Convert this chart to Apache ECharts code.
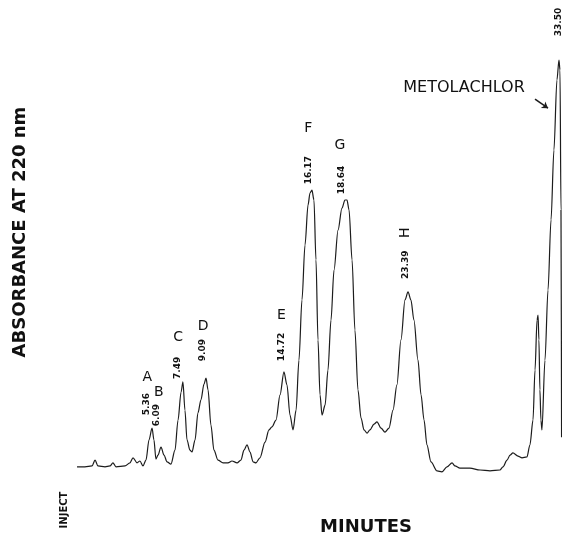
<!DOCTYPE html>
<html><head><meta charset="utf-8">
<script src="https://cdn.jsdelivr.net/npm/echarts@6/dist/echarts.min.js"></script>
<style>html,body{margin:0;padding:0;background:#fff}#c{width:562px;height:541px}</style>
</head><body><div id="c"></div>
<script>
// Chromatogram trace: retention time (min) and absorbance (arbitrary units, 0-100)
const traceTime = [0.14,0.69,1.18,1.39,1.59,2.08,2.43,2.63,2.84,3.47,3.81,4.02,4.30,4.50,4.71,4.92,5.13,5.34,5.47,5.61,5.75,5.96,6.17,6.38,6.65,6.93,7.14,7.35,7.48,7.62,7.76,7.97,8.11,8.32,8.52,8.73,8.94,9.08,9.22,9.42,9.63,9.91,10.26,10.60,10.88,11.23,11.50,11.71,11.92,12.13,12.34,12.54,12.82,13.17,13.44,13.65,13.93,14.21,14.48,14.69,14.90,15.11,15.32,15.52,15.73,15.94,16.15,16.29,16.42,16.56,16.70,16.84,16.98,17.12,17.33,17.53,17.74,17.95,18.23,18.50,18.71,18.85,18.99,19.20,19.40,19.61,19.82,20.03,20.24,20.44,20.72,20.93,21.21,21.48,21.76,22.04,22.31,22.59,22.87,23.08,23.28,23.49,23.77,23.98,24.19,24.39,24.67,25.09,25.43,25.78,26.13,26.33,26.68,27.37,28.07,28.76,29.45,29.66,29.94,30.15,30.35,30.70,30.98,31.32,31.53,31.74,31.88,32.02,32.09,32.15,32.22,32.29,32.36,32.57,32.78,32.99,33.19,33.40,33.54,33.61,33.68,33.72];
const traceAbs = [0.7,0.7,0.9,2.2,0.9,0.7,0.9,1.6,0.7,0.9,1.6,2.7,1.6,2.0,0.9,2.2,6.7,9.3,6.7,2.4,3.3,5.1,3.3,1.8,1.3,4.4,11.1,17.3,19.6,13.3,6.7,4.4,4.0,6.7,12.7,15.6,19.1,20.4,17.8,10.0,4.4,2.2,1.6,1.6,2.0,1.6,2.2,4.4,5.6,4.0,1.8,1.6,2.7,6.2,8.9,9.6,11.1,16.7,21.8,18.9,12.2,8.9,13.3,24.4,37.8,50.0,58.9,61.6,62.2,60.0,46.7,28.9,16.7,12.2,14.4,22.2,33.3,44.4,53.3,58.2,60.0,60.0,57.8,46.7,31.1,17.8,11.6,8.9,8.2,8.9,10.2,10.7,9.3,8.4,9.3,13.3,18.9,28.9,37.8,39.6,37.8,33.3,24.4,16.7,11.1,5.6,1.8,-0.2,-0.4,0.7,1.6,0.9,0.4,0.4,0,-0.2,0,0.7,2.2,3.3,3.8,3.1,2.7,2.9,5.6,11.1,22.2,33.3,34.4,28.9,17.8,11.1,8.9,24.4,40.0,55.6,71.1,86.7,91.1,88.9,57.8,7.3];

// Peak annotations
const peakLetters = ['A','B','C','D','E','F','G','H',''];
const peakTimes = [5.36, 6.09, 7.49, 9.09, 14.72, 16.17, 18.64, 23.39, 33.50];
const peakHeights = [9.3, 5.1, 19.6, 20.4, 21.8, 62.2, 60.0, 39.6, 91.1];
const compoundName = 'METOLACHLOR';
const yTitle = 'ABSORBANCE AT 220 nm';
const xTitle = 'MINUTES';
const injectLabel = 'INJECT';

// label placement offsets (pixels) relative to each peak anchor
const numOffsets = [[-6,-24],[-6,-32],[-5,-14],[-4,-28],[-6,-25],[0,-20],[-2,-20],[-7,-27],[0,-38]];
const letterOffsets = [[-5,-51],[-4,-55],[-5,-44],[-3,-52],[-6,-57],[0,-62],[-4,-55],[-7,-59],[0,0]];

const chart = echarts.init(document.getElementById('c'), null, {renderer:'canvas'});
const seriesData = traceTime.map((t,i)=>[t, traceAbs[i]]);
chart.setOption({
  animation:false,
  backgroundColor:'#ffffff',
  grid:{left:75, width:487, top:20, height:472.5},
  xAxis:{type:'value', min:0, max:33.75, show:false},
  yAxis:{type:'value', min:-5, max:100, show:false},
  series:[{
    type:'line', data:seriesData, showSymbol:false, smooth:0.3, smoothMonotone:'x',
    lineStyle:{color:'#1c1c1c', width:1.2}, clip:false,
    markLine:{silent:true, symbol:['none','arrow'], symbolSize:6,
      lineStyle:{color:'#1c1c1c', width:1.5, type:'solid'}, label:{show:false},
      data:[[{coord:[31.88,82.4]},{coord:[32.78,80.4]}]]}
  }]
});

const g = [];
const baseFont = '"DejaVu Sans", sans-serif';
peakTimes.forEach((t,i)=>{
  const p = chart.convertToPixel({gridIndex:0},[t, peakHeights[i]]);
  g.push({type:'text', x:p[0]+numOffsets[i][0], y:p[1]+numOffsets[i][1], rotation:Math.PI/2,
    style:{text:t.toFixed(2), font:'bold 9px '+baseFont, fill:'#111', textAlign:'center', textVerticalAlign:'middle'}});
  if (peakLetters[i]) {
    g.push({type:'text', x:p[0]+letterOffsets[i][0], y:p[1]+letterOffsets[i][1],
      rotation: peakLetters[i]==='H' ? Math.PI/2 : 0,
      style:{text:peakLetters[i], font:'14px '+baseFont, fill:'#111', textAlign:'center', textVerticalAlign:'middle'}});
  }
});
const mp = chart.convertToPixel({gridIndex:0},[26.96, 84.9]);
g.push({type:'text', x:mp[0], y:mp[1], style:{text:compoundName, font:'16px '+baseFont, fill:'#111', textAlign:'center', textVerticalAlign:'middle'}});
g.push({type:'text', x:20, y:232, rotation:Math.PI/2, style:{text:yTitle, font:'bold 18px '+baseFont, fill:'#111', textAlign:'center', textVerticalAlign:'middle'}});
g.push({type:'text', x:366, y:527, style:{text:xTitle, font:'bold 18px '+baseFont, fill:'#111', textAlign:'center', textVerticalAlign:'middle'}});
g.push({type:'text', x:64, y:510, rotation:Math.PI/2, style:{text:injectLabel, font:'bold 10px '+baseFont, fill:'#111', textAlign:'center', textVerticalAlign:'middle'}});
chart.setOption({graphic:g});
</script></body></html>
